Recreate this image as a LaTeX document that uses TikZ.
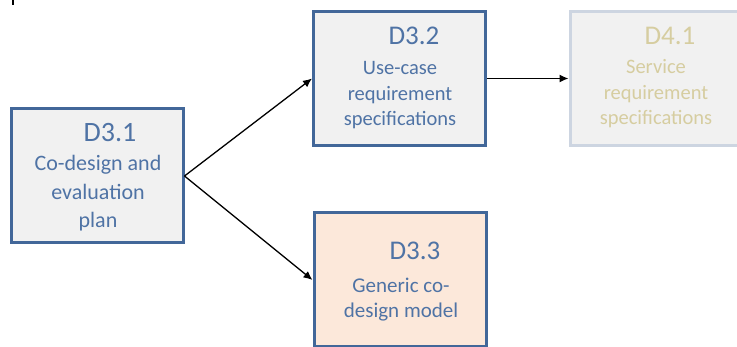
\documentclass[tikz,border=0pt]{standalone}
\usepackage{fontspec}
\setmainfont{Carlito}
\usetikzlibrary{arrows.meta}

\definecolor{delivBorder}{RGB}{66,103,153}
\definecolor{delivText}{RGB}{79,115,165}
\definecolor{delivFill}{RGB}{241,241,241}
\definecolor{modelFill}{RGB}{252,232,218}
\definecolor{laterBorder}{RGB}{205,213,225}
\definecolor{laterText}{RGB}{214,205,160}

\begin{document}
\begin{tikzpicture}[x=1pt, y=-1pt,
    delivStyle/.style={rectangle, draw=delivBorder, fill=delivFill, line width=3pt, minimum width=172pt, minimum height=134pt},
    laterStyle/.style={delivStyle, draw=laterBorder},
    titleStyle/.style={anchor=base, inner sep=0pt, text=delivText, font=\fontsize{27}{30}\selectfont},
    bodyStyle/.style={anchor=base, inner sep=0pt, align=center, text=delivText, font=\fontsize{20.5}{25.5}\selectfont},
    linkStyle/.style={draw=black, line width=1.3pt, -{Latex[length=9pt, width=8pt]}}]
    \useasboundingbox (0,0) rectangle (737,347);
    \clip (0,0) rectangle (737,347);
    \fill[white] (0,0) rectangle (737,347);
    \draw[line width=2pt] (13,0) -- (13,5);

    % deliverable boxes
    \node[delivStyle] (d31) at ( 97, 176) {};
    \node[delivStyle] (d32) at (399.5, 78.5) {};
    \node[delivStyle, fill=modelFill] (d33) at (400, 280) {};
    \node[laterStyle] (d41) at (656, 78.5) {};

    % titles and descriptions (base = last line)
    \node[titleStyle, font=\fontsize{28}{32}\selectfont] (d31_T) at (110, 142) {D3.1};
    \node[bodyStyle, font=\fontsize{22}{28.5}\selectfont] (d31_B) at ( 98, 228) {Co-design and\\evaluation\\plan};
    \node[titleStyle] (d32_T) at (414, 45) {D3.2};
    \node[bodyStyle] (d32_B) at (400, 126) {Use-case\\requirement\\specifications};
    \node[titleStyle] (d33_T) at (415, 260) {D3.3};
    \node[bodyStyle, font=\fontsize{21}{25.5}\selectfont] (d33_B) at (401, 318) {Generic co-\\design model};
    \node[titleStyle, text=laterText] (d41_T) at (670, 45) {D4.1};
    \node[bodyStyle, text=laterText] (d41_B) at (656, 125) {Service\\requirement\\specifications};

    % dependencies
    \draw[linkStyle] (d31.east) -- (d32.west);
    \draw[linkStyle] (d31.east) -- (d33.west);
    \draw[linkStyle] (d32.east) -- (d41.west);
\end{tikzpicture}
\end{document}
